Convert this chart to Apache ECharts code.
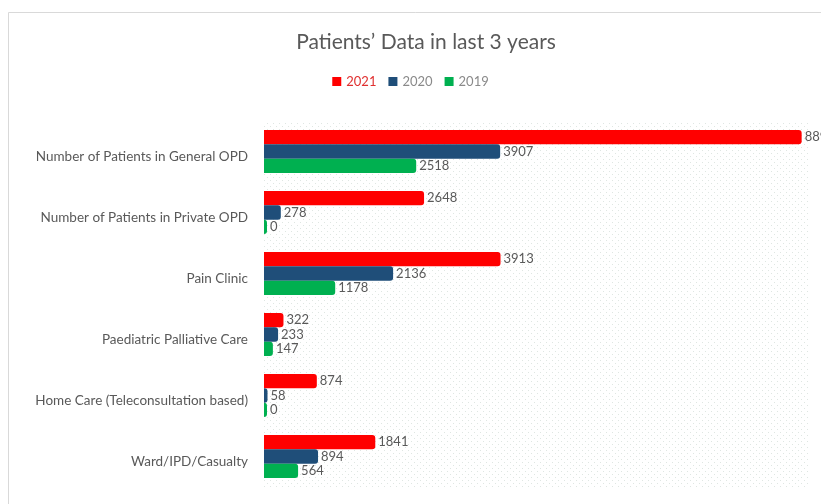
<!DOCTYPE html>
<html>
<head>
<meta charset="utf-8">
<script src="https://cdn.jsdelivr.net/npm/echarts@6/dist/echarts.min.js"></script>
<style>
  html, body { margin: 0; padding: 0; background: #fff; }
  #chart { width: 821px; height: 504px; }
</style>
</head>
<body>
<div id="chart"></div>
<script>
const categories = [
  'Number of Patients in General OPD',
  'Number of Patients in Private OPD',
  'Pain Clinic',
  'Paediatric Palliative Care',
  'Home Care (Teleconsultation based)',
  'Ward/IPD/Casualty'
];
const years = ['2021', '2020', '2019'];
const data2021 = [8895, 2648, 3913, 322, 874, 1841];
const data2020 = [3907, 278, 2136, 233, 58, 894];
const data2019 = [2518, 0, 1178, 147, 0, 564];
const colors = ['#ff0000', '#1f4e79', '#00b050'];

// dotted background like the excel plot area
const dots = document.createElement('canvas');
dots.width = 6; dots.height = 6;
const dctx = dots.getContext('2d');
dctx.fillStyle = '#ffffff';
dctx.fillRect(0, 0, 6, 6);
dctx.fillStyle = '#dfe6e2';
dctx.fillRect(0, 0, 1, 1);
dctx.fillRect(3, 3, 1, 1);

const chart = echarts.init(document.getElementById('chart'));

const makeSeries = (name, values, i) => ({
  name: name,
  type: 'bar',
  data: values,
  barWidth: 14.3,
  barGap: '0%',
  barMinHeight: 3,
  itemStyle: { color: colors[i], borderRadius: [0, 3, 3, 0] },
  label: {
    show: true,
    position: 'right',
    distance: 3,
    color: '#595959',
    fontSize: 13,
    fontFamily: 'Lato'
  }
});

chart.setOption({
  backgroundColor: '#fff',
  animation: false,
  textStyle: { fontFamily: 'Lato' },
  graphic: [{
    type: 'rect',
    shape: { x: 8.5, y: 12.5, width: 830, height: 520 },
    style: { fill: 'none', stroke: '#d9d9d9', lineWidth: 1 }
  }],
  title: {
    text: 'Patients\u2019 Data in last 3 years',
    left: 421,
    top: 27,
    textAlign: 'center',
    textStyle: { color: '#595959', fontSize: 21, fontWeight: 'normal', fontFamily: 'Lato' }
  },
  legend: {
    data: [
      { name: '2021', textStyle: { color: '#e03030' } },
      { name: '2020' },
      { name: '2019' }
    ],
    left: 'center',
    top: 70,
    itemWidth: 9,
    itemHeight: 9,
    itemGap: 12,
    icon: 'rect',
    textStyle: { color: '#8a8a8a', fontSize: 13, fontFamily: 'Lato' }
  },
  grid: {
    left: 264,
    top: 121,
    width: 544,
    height: 366,
    show: true,
    borderWidth: 0,
    backgroundColor: { image: dots, repeat: 'repeat' }
  },
  xAxis: {
    type: 'value',
    min: 0,
    max: 9000,
    show: false
  },
  yAxis: {
    type: 'category',
    data: categories,
    inverse: true,
    axisLine: { show: false },
    axisTick: { show: false },
    axisLabel: {
      color: '#595959',
      fontSize: 13.5,
      margin: 16,
      verticalAlign: 'top',
      lineHeight: 11,
      fontFamily: 'Lato'
    }
  },
  series: [
    makeSeries(years[0], data2021, 0),
    makeSeries(years[1], data2020, 1),
    makeSeries(years[2], data2019, 2)
  ]
});
</script>
</body>
</html>
